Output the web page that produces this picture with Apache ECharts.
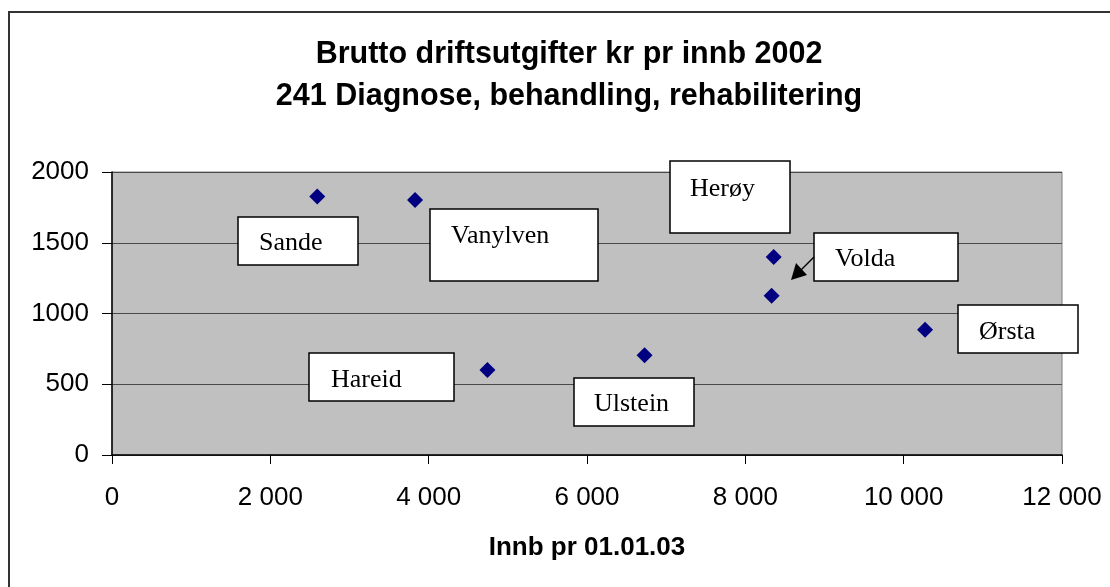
<!DOCTYPE html>
<html>
<head>
<meta charset="utf-8">
<title>Brutto driftsutgifter kr pr innb 2002</title>
<script src="https://cdn.jsdelivr.net/npm/echarts@6/dist/echarts.min.js"></script>
<style>
  html, body { margin: 0; padding: 0; background: #fff; }
  #chart { width: 1110px; height: 587px; }
</style>
</head>
<body>
<div id="chart"></div>
<script>
// kommuner, innbyggertal 01.01.03 og brutto driftsutgifter kr pr innb (funksjon 241)
const kommuner = ['Sande', 'Vanylven', 'Hareid', 'Ulstein', 'Herøy', 'Volda', 'Ørsta'];
const innb = [2593, 3828, 4742, 6727, 8358, 8332, 10270];
const krPrInnb = [1827, 1802, 601, 705, 1399, 1125, 886];
const xTicks = [0, 2000, 4000, 6000, 8000, 10000, 12000];
const yTicks = [0, 500, 1000, 1500, 2000];

const sans = '"Liberation Sans", Arial, sans-serif';
const serif = '"Liberation Serif", "Times New Roman", serif';

// tekstboksane ligg fritt i diagrammet (slik som i Excel-originalen)
const boxes = [
  { text: 'Sande', x: 238, y: 217, w: 120, h: 48, tx: 259, ty: 243 },
  { text: 'Vanylven', x: 430, y: 209, w: 168, h: 72, tx: 451, ty: 236 },
  { text: 'Hareid', x: 309, y: 353, w: 145, h: 48, tx: 331, ty: 380 },
  { text: 'Ulstein', x: 574, y: 378, w: 120, h: 48, tx: 594, ty: 404 },
  { text: 'Herøy', x: 670, y: 161, w: 120, h: 72, tx: 690, ty: 189 },
  { text: 'Volda', x: 814, y: 233, w: 144, h: 48, tx: 835, ty: 259 },
  { text: 'Ørsta', x: 958, y: 305, w: 120, h: 48, tx: 979, ty: 332 }
];

const fmtThousands = (v) => String(v).replace(/\B(?=(\d{3})+(?!\d))/g, ' ');

const graphic = [
  {
    type: 'rect',
    shape: { x: 9, y: 12, width: 1200, height: 700 },
    style: { fill: 'none', stroke: '#333', lineWidth: 2 },
    silent: true
  }
];
boxes.forEach((b) => {
  graphic.push({
    type: 'rect',
    z: 10,
    shape: { x: b.x, y: b.y, width: b.w, height: b.h },
    style: { fill: '#fff', stroke: '#000', lineWidth: 1.5 },
    silent: true
  });
  graphic.push({
    type: 'text',
    z: 11,
    x: b.tx,
    y: b.ty,
    style: {
      text: b.text,
      font: '26px ' + serif,
      fill: '#000',
      align: 'left',
      verticalAlign: 'middle',
      textAlign: 'left',
      textVerticalAlign: 'middle'
    },
    silent: true
  });
});
// pil frå Volda-boksen
graphic.push({
  type: 'line',
  z: 11,
  shape: { x1: 814, y1: 257, x2: 800, y2: 271 },
  style: { stroke: '#000', lineWidth: 1.5 },
  silent: true
});
graphic.push({
  type: 'polygon',
  z: 11,
  shape: { points: [[791, 280], [807, 275], [796, 263]] },
  style: { fill: '#000' },
  silent: true
});

const chart = echarts.init(document.getElementById('chart'), null, { renderer: 'canvas' });
const option = {
  animation: false,
  backgroundColor: '#fff',
  title: {
    text: 'Brutto driftsutgifter kr pr innb 2002\n241 Diagnose, behandling, rehabilitering',
    left: 569,
    top: 34,
    padding: 0,
    textAlign: 'center',
    textStyle: {
      fontFamily: sans,
      fontSize: 30.5,
      fontWeight: 'bold',
      color: '#000',
      lineHeight: 41.5
    }
  },
  grid: {
    left: 112,
    right: 48,
    top: 172,
    bottom: 132,
    show: true,
    backgroundColor: '#c0c0c0',
    borderColor: '#808080',
    borderWidth: 1,
    containLabel: false,
    outerBoundsMode: 'none'
  },
  xAxis: {
    type: 'value',
    min: xTicks[0],
    max: xTicks[xTicks.length - 1],
    interval: xTicks[1] - xTicks[0],
    name: 'Innb pr 01.01.03',
    nameLocation: 'middle',
    nameGap: 80,
    nameTextStyle: { fontFamily: sans, fontSize: 26, fontWeight: 'bold', color: '#000' },
    axisLine: { show: true, onZero: false, lineStyle: { color: '#000', width: 1.5 } },
    axisTick: { show: true, inside: false, length: 9, lineStyle: { color: '#000', width: 1 } },
    axisLabel: {
      margin: 30,
      fontFamily: sans,
      fontSize: 26,
      color: '#000',
      formatter: fmtThousands
    },
    splitLine: { show: false }
  },
  yAxis: {
    type: 'value',
    min: yTicks[0],
    max: yTicks[yTicks.length - 1],
    interval: yTicks[1] - yTicks[0],
    axisLine: { show: true, onZero: false, lineStyle: { color: '#000', width: 1.5 } },
    axisTick: { show: true, inside: false, length: 10, lineStyle: { color: '#000', width: 1 } },
    axisLabel: {
      margin: 23,
      fontFamily: sans,
      fontSize: 26,
      color: '#000',
      formatter: (v) => String(v)
    },
    splitLine: { show: true, lineStyle: { color: '#4a4a4a', width: 1 } }
  },
  series: [
    {
      type: 'scatter',
      symbol: 'diamond',
      symbolSize: 16,
      itemStyle: { color: '#000080', opacity: 1 },
      data: kommuner.map((k, i) => ({ name: k, value: [innb[i], krPrInnb[i]] })),
      z: 5
    }
  ],
  graphic: graphic
};
chart.setOption(option);
</script>
</body>
</html>
